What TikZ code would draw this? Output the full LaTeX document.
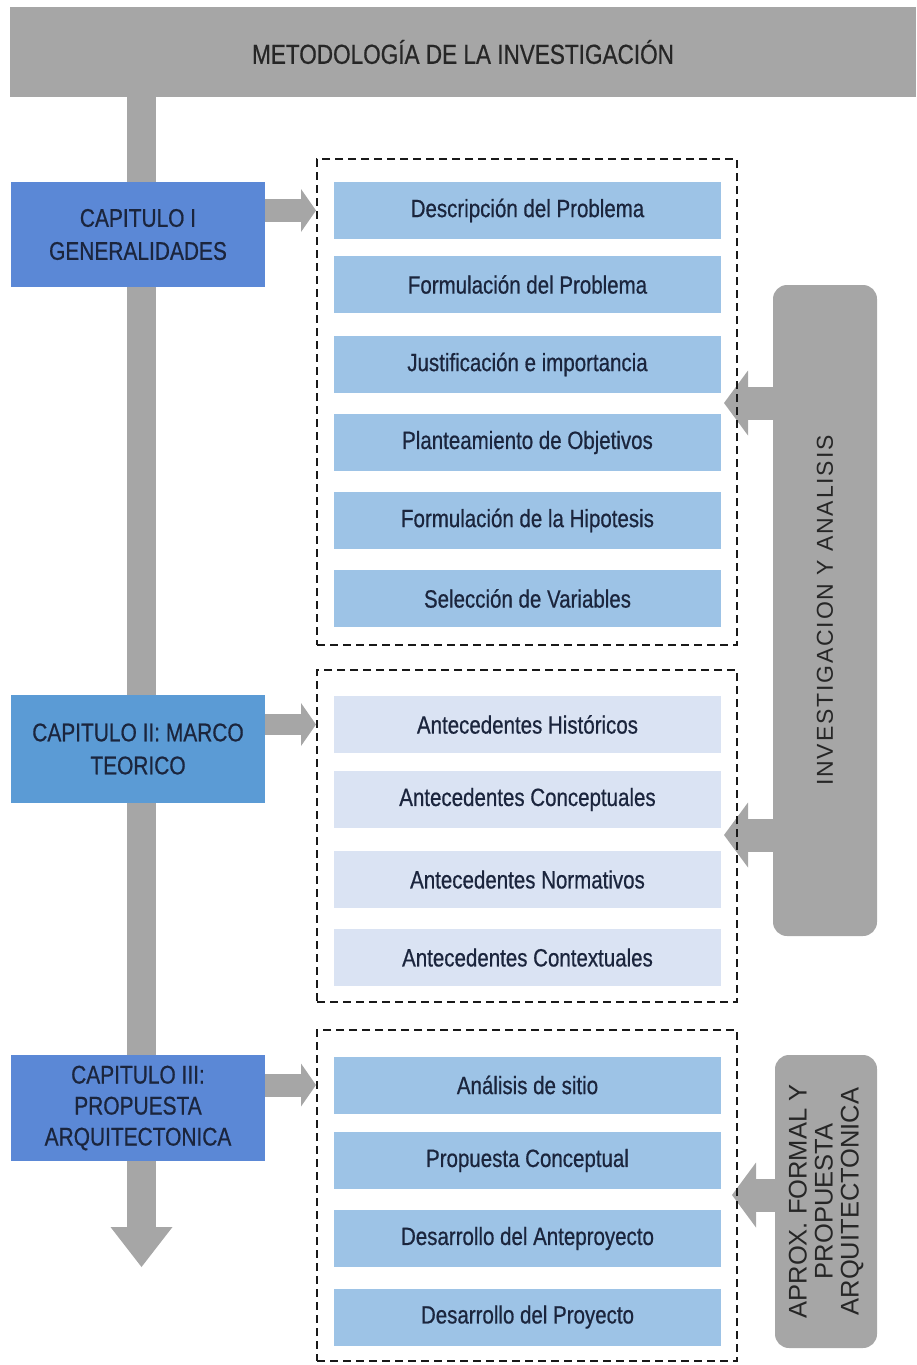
\documentclass[tikz,border=0pt]{standalone}
\usepackage{fontspec}
\setmainfont{Liberation Sans}
\newfontfamily\narrowfont[FakeStretch=0.82,FakeBold=0.6]{Liberation Sans}
\newfontfamily\spacedfont[LetterSpace=8]{Liberation Sans}
\usetikzlibrary{arrows.meta}
\definecolor{hdrgray}{HTML}{A6A6A6}
\definecolor{arrgray}{HTML}{A6A6A6}
\definecolor{chapblue}{HTML}{5B88D6}
\definecolor{chapblueb}{HTML}{5B9BD5}
\definecolor{itemblue}{HTML}{9DC3E6}
\definecolor{itempale}{HTML}{DAE3F3}
\definecolor{navy}{HTML}{1B253D}
\definecolor{darktext}{HTML}{262626}
\begin{document}
\begin{tikzpicture}[x=1pt,y=-1pt,
  hdr/.style={fill=hdrgray, minimum width=906pt, minimum height=90pt, inner sep=0pt,
    text=darktext, font=\narrowfont\fontsize{27.5}{32}\selectfont},
  chap/.style={fill=chapblue, minimum width=254pt, inner sep=0pt, text=navy, align=center,
    font=\narrowfont\fontsize{25.5}{33}\selectfont},
  item/.style={fill=itemblue, minimum width=387pt, minimum height=57pt, inner sep=0pt,
    text=navy, font=\narrowfont\fontsize{25}{28}\selectfont},
  paleitem/.style={item, fill=itempale},
  dbox/.style={draw=black!90, dash pattern=on 8pt off 5pt, line width=2pt,
    minimum width=420pt, inner sep=0pt},
  gbox/.style={fill=hdrgray, rounded corners=14pt, inner sep=0pt},
  chaparrow/.style={draw=arrgray, line width=23pt,
    -{Triangle[length=15pt,width=43pt,line width=0pt]}},
  backarrow/.style={draw=arrgray, line width=33pt,
    -{Triangle[length=24pt,width=65pt,line width=0pt]}},
  mainarrow/.style={draw=arrgray, line width=29pt,
    -{Triangle[length=40pt,width=62pt,line width=0pt]}}
]
\useasboundingbox (0,0) rectangle (916,1365);

% header
\node[hdr] (hdr) at (463,52) {METODOLOGÍA DE LA INVESTIGACIÓN};

% main vertical arrow
\coordinate (barTip) at (141.5,1267);
\draw[mainarrow] (hdr.south -| barTip) -- (barTip);

% chapter boxes
\node[chap, minimum height=105pt] (c1) at (138,234.5) {CAPITULO I\\GENERALIDADES};
\node[chap, fill=chapblueb, minimum height=108pt] (c2) at (138,749) {CAPITULO II: MARCO\\TEORICO};
\node[chap, minimum height=106pt, font=\narrowfont\fontsize{25.5}{31}\selectfont] (c3) at (138,1108) {CAPITULO III:\\PROPUESTA\\ARQUITECTONICA};

% items
\node[item] (i1) at (527.5,210.5) {Descripción del Problema};
\node[item] (i2) at (527.5,284.5) {Formulación del Problema};
\node[item] (i3) at (527.5,364.5) {Justificación e importancia};
\node[item] (i4) at (527.5,442.5) {Planteamiento de Objetivos};
\node[item] (i5) at (527.5,520.5) {Formulación de la Hipotesis};
\node[item] (i6) at (527.5,598.5) {Selección de Variables};

\node[paleitem] (j1) at (527.5,724.5) {Antecedentes Históricos};
\node[paleitem] (j2) at (527.5,799.5) {Antecedentes Conceptuales};
\node[paleitem] (j3) at (527.5,879.5) {Antecedentes Normativos};
\node[paleitem] (j4) at (527.5,957.5) {Antecedentes Contextuales};

\node[item] (k1) at (527.5,1085) {Análisis de sitio};
\node[item] (k2) at (527.5,1160.5) {Propuesta Conceptual};
\node[item] (k3) at (527.5,1238.5) {Desarrollo del Anteproyecto};
\node[item] (k4) at (527.5,1317) {Desarrollo del Proyecto};

% gray side boxes
\node[gbox, minimum width=104pt, minimum height=651pt] (g1) at (825,610.5) {};
\node[rotate=90, text=darktext, font=\spacedfont\fontsize{23}{26}\selectfont] (g1t) at (g1.center) {INVESTIGACION Y ANALISIS};
\node[gbox, minimum width=102pt, minimum height=293pt] (g2) at (826,1201.5) {};
\node[rotate=90, text=darktext, align=center, font=\fontsize{25.5}{26}\selectfont] (g2t) at (g2.center) {APROX. FORMAL Y\\PROPUESTA\\ARQUITECTONICA};

% arrows from side boxes
\coordinate (t1) at (724,403);
\coordinate (t2) at (724,835);
\coordinate (t3) at (732,1195);
\draw[backarrow] (g1.west |- t1) -- (t1);
\draw[backarrow] (g1.west |- t2) -- (t2);
\draw[backarrow] (g2.west |- t3) -- (t3);

% dashed group boxes
\node[dbox, minimum height=486pt] (d1) at (527,402) {};
\node[dbox, minimum height=332pt] (d2) at (527,836) {};
\node[dbox, minimum height=331pt] (d3) at (527,1195.5) {};

% arrows from chapters
\draw[chaparrow] (c1.east |- i1) -- (d1.west |- i1);
\draw[chaparrow, line width=21pt] (c2.east |- j1) -- (d2.west |- j1);
\draw[chaparrow] (c3.east |- k1) -- (d3.west |- k1);
\end{tikzpicture}
\end{document}
